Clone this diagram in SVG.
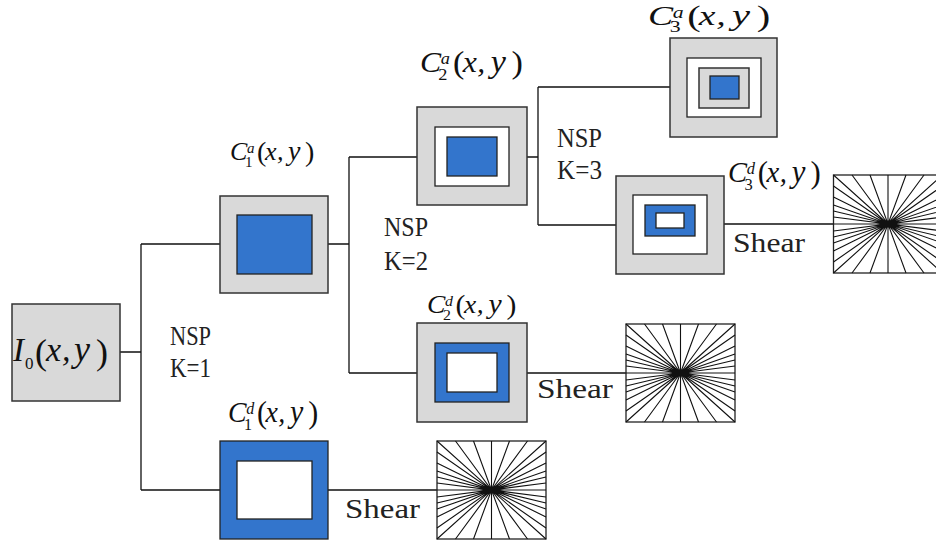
<svg xmlns="http://www.w3.org/2000/svg" xmlns:xlink="http://www.w3.org/1999/xlink" width="936" height="545" viewBox="0 0 936 545">
<style>
.gray{fill:#d9d9d9;stroke:#333;stroke-width:1.5}
.blue{fill:#3375cc;stroke:#222;stroke-width:1.3}
.white{fill:#fff;stroke:#222;stroke-width:1.3}
.wire{fill:none;stroke:#111;stroke-width:1.3}
.ray{fill:none;stroke:#111;stroke-width:1.1}
.lab{font-family:"Liberation Serif","Times New Roman",serif;fill:#111}
.it{font-style:italic;font-size:26px}
.yy{font-style:italic;font-size:28px}
.par{font-style:normal;font-size:28px}
.sm{font-size:15px}
.txt{font-family:"Liberation Serif","Times New Roman",serif;font-size:27px;fill:#222}
</style>
<defs>
<g id="shear">
<rect x="-54.5" y="-49" width="109" height="98" fill="#fff" stroke="#222" stroke-width="1.3"/>
<path class="ray" d="M-54.5,0H54.5M0,-49V49M-54.5,-7L54.5,7M-54.5,7L54.5,-7M-54.5,-13L54.5,13M-54.5,13L54.5,-13M-54.5,-19L54.5,19M-54.5,19L54.5,-19M-54.5,-27L54.5,27M-54.5,27L54.5,-27M-54.5,-38L54.5,38M-54.5,38L54.5,-38M-54.5,-49L54.5,49M-54.5,49L54.5,-49M-18,-49L18,49M18,-49L-18,49M-36,-49L36,49M36,-49L-36,49"/>
</g>
</defs>

<g id="connectors">
<path class="wire" d="M120,352H141M141,244V490M141,244H220M141,490H220"/>
<path class="wire" d="M328,244H349M349,157V373M349,157H417M349,373H417"/>
<path class="wire" d="M527,157H538M538,87V225M538,87H670M538,225H616"/>
<path class="wire" d="M724,224H833.5M527,373H626M328,490H437"/>
<text class="txt" x="170" y="345" textLength="41" lengthAdjust="spacingAndGlyphs">NSP</text>
<text class="txt" x="170" y="377" textLength="41" lengthAdjust="spacingAndGlyphs">K=1</text>
<text class="txt" x="384" y="236" textLength="44" lengthAdjust="spacingAndGlyphs">NSP</text>
<text class="txt" x="384" y="270" textLength="44" lengthAdjust="spacingAndGlyphs">K=2</text>
<text class="txt" x="557" y="147" textLength="45" lengthAdjust="spacingAndGlyphs">NSP</text>
<text class="txt" x="557" y="179" textLength="45" lengthAdjust="spacingAndGlyphs">K=3</text>
<text class="txt" x="345" y="518" textLength="75" lengthAdjust="spacingAndGlyphs">Shear</text>
<text class="txt" x="537" y="398" textLength="76" lengthAdjust="spacingAndGlyphs">Shear</text>
<text class="txt" x="733" y="252" textLength="72" lengthAdjust="spacingAndGlyphs">Shear</text>
</g>

<g id="I0">
<rect class="gray" x="12" y="304" width="108" height="97"/>
<text class="lab"><tspan font-style="italic" font-size="33" x="13" y="361">I</tspan><tspan font-size="17" x="25" y="369">0</tspan><tspan font-size="36" x="35" y="364">(</tspan><tspan font-style="italic" font-size="34" x="46" y="361">x</tspan><tspan font-style="italic" font-size="34" x="62" y="361">,</tspan><tspan font-style="italic" font-size="36" x="74" y="361">y</tspan><tspan font-size="36" x="96" y="364">)</tspan></text>
</g>

<g id="C1a">
<rect class="gray" x="220" y="196" width="108" height="97"/>
<rect class="blue" x="237" y="215" width="75" height="59"/>
<text class="lab" transform="translate(230,160)"><tspan class="it" x="0" y="0">C</tspan><tspan class="sm" x="15" y="7">1</tspan><tspan class="sm" font-style="italic" x="17" y="-7">a</tspan><tspan class="par" x="27" y="1">(</tspan><tspan class="it" x="35" y="0">x</tspan><tspan class="it" x="47" y="0">,</tspan><tspan class="yy" x="58" y="0">y</tspan><tspan class="par" x="75" y="1">)</tspan></text>
</g>

<g id="C1d">
<rect class="blue" x="220" y="441" width="108" height="98"/>
<rect class="white" x="237" y="461" width="75" height="58"/>
<text class="lab" transform="translate(228,422) scale(1.07,1.1)"><tspan class="it" x="0" y="0">C</tspan><tspan class="sm" x="15" y="7">1</tspan><tspan class="sm" font-style="italic" x="17" y="-7">d</tspan><tspan class="par" x="27" y="1">(</tspan><tspan class="it" x="35" y="0">x</tspan><tspan class="it" x="47" y="0">,</tspan><tspan class="yy" x="58" y="0">y</tspan><tspan class="par" x="75" y="1">)</tspan></text>
</g>

<g id="C2a">
<rect class="gray" x="417" y="107" width="110" height="98"/>
<rect class="white" x="435" y="127" width="74" height="59"/>
<rect class="blue" x="447" y="137" width="50" height="39"/>
<text class="lab" transform="translate(420,72) scale(1.22,1.12)"><tspan class="it" x="0" y="0">C</tspan><tspan class="sm" x="15" y="7">2</tspan><tspan class="sm" font-style="italic" x="17" y="-7">a</tspan><tspan class="par" x="27" y="1">(</tspan><tspan class="it" x="35" y="0">x</tspan><tspan class="it" x="47" y="0">,</tspan><tspan class="yy" x="58" y="0">y</tspan><tspan class="par" x="75" y="1">)</tspan></text>
</g>

<g id="C2d">
<rect class="gray" x="417" y="323" width="110" height="99"/>
<rect class="blue" x="435" y="343" width="74" height="59"/>
<rect class="white" x="447" y="353" width="50" height="39"/>
<text class="lab" transform="translate(427,313) scale(1.06,1.0)"><tspan class="it" x="0" y="0">C</tspan><tspan class="sm" x="15" y="7">2</tspan><tspan class="sm" font-style="italic" x="17" y="-7">d</tspan><tspan class="par" x="27" y="1">(</tspan><tspan class="it" x="35" y="0">x</tspan><tspan class="it" x="47" y="0">,</tspan><tspan class="yy" x="58" y="0">y</tspan><tspan class="par" x="75" y="1">)</tspan></text>
</g>

<g id="C3a">
<rect class="gray" x="670" y="38" width="107" height="99"/>
<rect class="white" x="687" y="58" width="74" height="59"/>
<rect class="gray" x="699" y="68" width="50" height="40"/>
<rect class="blue" x="710" y="76" width="29" height="23"/>
<text class="lab" transform="translate(648,25) scale(1.45,1.05)"><tspan class="it" x="0" y="0">C</tspan><tspan class="sm" x="15" y="7">3</tspan><tspan class="sm" font-style="italic" x="17" y="-7">a</tspan><tspan class="par" x="27" y="1">(</tspan><tspan class="it" x="35" y="0">x</tspan><tspan class="it" x="47" y="0">,</tspan><tspan class="yy" x="58" y="0">y</tspan><tspan class="par" x="75" y="1">)</tspan></text>
</g>

<g id="C3d">
<rect class="gray" x="616" y="176" width="108" height="98"/>
<rect class="white" x="633" y="195" width="74" height="59"/>
<rect class="blue" x="645" y="205" width="50" height="31"/>
<rect class="white" x="656" y="213" width="28" height="15"/>
<text class="lab" transform="translate(728,182) scale(1.1,1.1)"><tspan class="it" x="0" y="0">C</tspan><tspan class="sm" x="15" y="7">3</tspan><tspan class="sm" font-style="italic" x="17" y="-7">d</tspan><tspan class="par" x="27" y="1">(</tspan><tspan class="it" x="35" y="0">x</tspan><tspan class="it" x="47" y="0">,</tspan><tspan class="yy" x="58" y="0">y</tspan><tspan class="par" x="75" y="1">)</tspan></text>
</g>

<g id="shear1"><use xlink:href="#shear" transform="translate(491.5,490)"/></g>
<g id="shear2"><use xlink:href="#shear" transform="translate(680.5,373)"/></g>
<g id="shear3"><use xlink:href="#shear" transform="translate(888,224)"/></g>
</svg>
